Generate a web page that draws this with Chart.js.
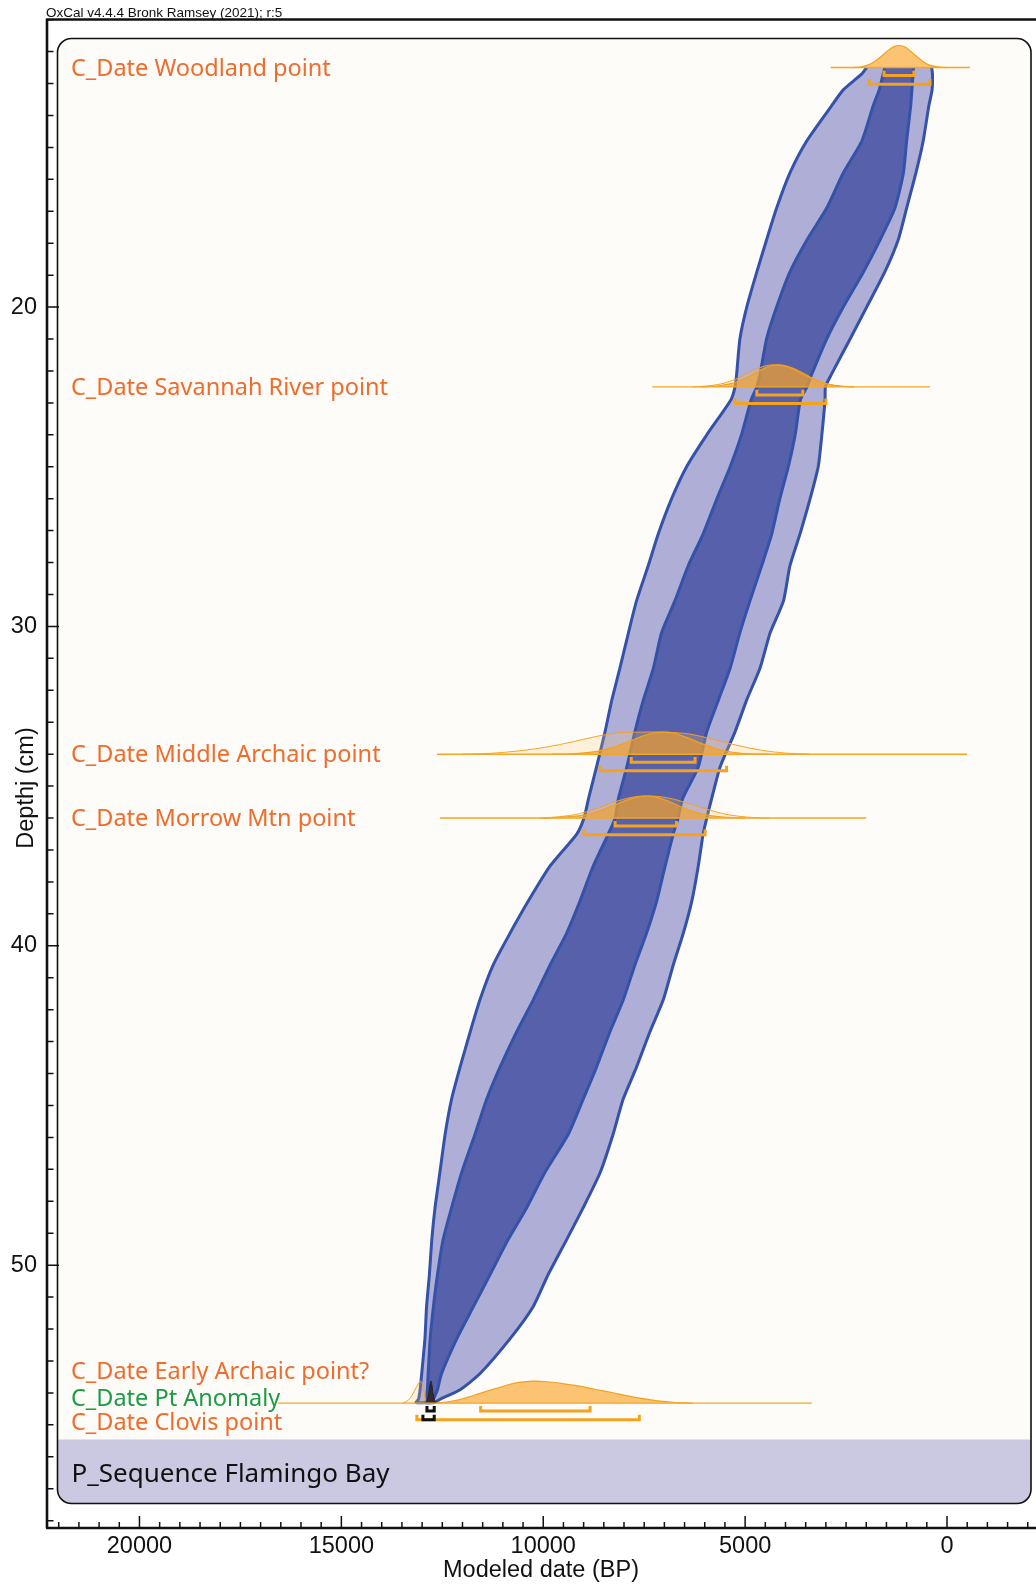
<!DOCTYPE html>
<html>
<head>
<meta charset="utf-8">
<title>Flamingo Bay age-depth model</title>
<script src="https://cdn.jsdelivr.net/npm/chart.js@4.4.1/dist/chart.umd.min.js"></script>
<style>
  html, body { margin: 0; padding: 0; background: #ffffff; }
  canvas { display: block; }
</style>
</head>
<body>
<canvas id="depthChart" width="1036" height="1585"></canvas>
<script>
// ---------------- model output (years BP, depth in cm) ----------------
const depthLevels = [12.5, 12.7, 13.2, 13.7, 14.8, 15.8, 16.9, 17.9, 18.9, 20.0, 21.0, 22.1, 22.5, 22.9, 24.0, 25.0,
  26.0, 27.1, 28.1, 29.2, 30.2, 31.3, 32.3, 33.3, 34.4, 35.4, 36.0, 36.5, 37.5, 38.6, 39.6, 40.6, 41.7, 42.7, 43.8,
  44.8, 45.9, 47.1, 48.2, 49.2, 50.3, 51.3, 52.3, 53.4, 53.9, 54.2, 54.3];
// 95.4% envelope, older and younger edge
const env95Old = [1990, 2110, 2570, 2860, 3475, 3890, 4220, 4470, 4710, 4960, 5130, 5210, 5250, 5350, 5950, 6450,
  6820, 7150, 7400, 7690, 7890, 8100, 8300, 8470, 8680, 8880, 8990, 9170, 9830, 10370, 10820, 11240, 11570, 11810, 12060,
  12270, 12430, 12560, 12680, 12760, 12820, 12890, 12930, 13010, 13050, 13090, 13150];
const env95Young = [380, 360, 370, 450, 590, 770, 1000, 1210, 1540, 1990, 2400, 2860, 3010, 3020, 3100, 3190,
  3390, 3640, 3890, 4050, 4380, 4630, 4960, 5250, 5620, 5830, 5950, 6040, 6160, 6320, 6530, 6780, 7030, 7360, 7690,
  8020, 8270, 8590, 9010, 9420, 9880, 10250, 10820, 11570, 12060, 12560, 12700];
// 68.3% envelope, older and younger edge
const env68Old = [1540, 1580, 1680, 1830, 2110, 2570, 2980, 3470, 3890, 4220, 4470, 4630, 4710, 4850, 5090, 5370,
  5700, 6040, 6410, 6740, 7070, 7270, 7520, 7730, 7930, 8140, 8220, 8390, 8760, 9090, 9420, 9830, 10250, 10660, 11070,
  11400, 11690, 12020, 12270, 12480, 12620, 12720, 12800, 12850, 12870, 12890, 12900];
const env68Young = [830, 840, 870, 900, 1000, 1080, 1290, 1660, 2070, 2570, 2980, 3350, 3470, 3630, 3760, 3930,
  4140, 4340, 4590, 4880, 5130, 5370, 5660, 5950, 6160, 6550, 6660, 6780, 6980, 7190, 7440, 7730, 8020, 8350, 8680,
  9010, 9380, 9960, 10410, 10870, 11320, 11730, 12140, 12520, 12620, 12720, 12760];

// ---------------- dated levels ----------------
const labelTexts = ['C_Date Woodland point', 'C_Date Savannah River point', 'C_Date Middle Archaic point',
  'C_Date Morrow Mtn point', 'C_Date Early Archaic point?', 'C_Date Pt Anomaly', 'C_Date Clovis point'];
const labelDepths = [12.5, 22.5, 34.0, 36.0, 53.32, 54.15, 54.9];
const labelKinds = ['date', 'date', 'date', 'date', 'date', 'anomaly', 'date'];

// depth of each distribution row and the span of its axis line
const rowDepths = [12.5, 22.5, 34.0, 36.0, 54.32];
const rowSpanOld = [2880, 7300, 12630, 12560, 16570];
const rowSpanYoung = [-570, 420, -500, 2000, 3350];

// highest posterior density ranges
const range68Old = [1560, 4710, 7820, 8220, 11550];
const range68Young = [820, 3570, 6240, 6700, 8840];
const range95Old = [1930, 5250, 8590, 8990, 13130];
const range95Young = [420, 3000, 5460, 5990, 7620];
const anomaly68 = [12880, 12700];
const anomaly95 = [12980, 12700];

// probability curves (relative to peak)
const woodlandYears = [2350, 2100, 1900, 1750, 1600, 1450, 1300, 1190, 1050, 900, 750, 600, 450, 250, 0];
const woodlandProb = [0, 0.04, 0.16, 0.33, 0.55, 0.79, 0.96, 1.0, 0.94, 0.74, 0.5, 0.28, 0.12, 0.03, 0];

const savannahYears = [6100, 5700, 5350, 5050, 4800, 4550, 4350, 4180, 4000, 3750, 3500, 3250, 2950, 2600, 2300];
const savannahProb = [0, 0.04, 0.15, 0.35, 0.58, 0.82, 0.96, 1.0, 0.96, 0.8, 0.56, 0.32, 0.13, 0.03, 0];
const savannahPriorYears = [6300, 5900, 5500, 5150, 4850, 4600, 4400, 4250, 4050, 3800, 3550, 3250, 2950, 2600, 2300];
const savannahPriorProb = [0, 0.05, 0.18, 0.42, 0.7, 0.9, 0.99, 1.0, 0.95, 0.78, 0.55, 0.3, 0.12, 0.03, 0];

const middleYears = [9800, 9200, 8700, 8300, 7950, 7600, 7300, 7030, 6750, 6450, 6100, 5750, 5350, 4900, 4400];
const middleProb = [0, 0.03, 0.12, 0.3, 0.52, 0.78, 0.95, 1.0, 0.95, 0.76, 0.5, 0.27, 0.1, 0.02, 0];
const middlePriorYears = [12000, 11300, 10600, 9900, 9300, 8700, 8200, 7600, 7000, 6400, 5800, 5200, 4600, 4000, 3400];
const middlePriorProb = [0, 0.04, 0.15, 0.33, 0.55, 0.8, 0.96, 1.0, 1.0, 0.92, 0.68, 0.4, 0.18, 0.05, 0];

const morrowYears = [10000, 9500, 9000, 8600, 8250, 7950, 7700, 7460, 7200, 6950, 6650, 6300, 5900, 5450, 5000];
const morrowProb = [0, 0.04, 0.13, 0.33, 0.58, 0.8, 0.94, 1.0, 0.95, 0.8, 0.56, 0.31, 0.12, 0.03, 0];
const morrowPriorYears = [10100, 9600, 9100, 8600, 8150, 7750, 7400, 7100, 6750, 6350, 5950, 5550, 5150, 4750, 4400];
const morrowPriorProb = [0, 0.06, 0.2, 0.48, 0.78, 0.96, 1.0, 0.97, 0.85, 0.63, 0.4, 0.2, 0.08, 0.02, 0];

const earlyYears = [12900, 12400, 12000, 11570, 11200, 10900, 10600, 10250, 9900, 9500, 9100, 8700, 8270, 7850, 7440, 7100, 6780, 6300];
const earlyProb = [0, 0.05, 0.2, 0.44, 0.65, 0.81, 0.94, 1.0, 0.97, 0.88, 0.77, 0.62, 0.47, 0.31, 0.18, 0.09, 0.04, 0];

const anomalyYears = [12930, 12870, 12830, 12800, 12780, 12760, 12730, 12690, 12640];
const anomalyProb = [0, 0.15, 0.5, 0.9, 1.0, 0.85, 0.45, 0.12, 0];

const clovisPriorYears = [13480, 13350, 13250, 13150, 13070, 13035, 12990, 12940, 12900, 12880];
const clovisPriorProb = [0, 0.12, 0.35, 0.7, 0.95, 1.0, 0.85, 0.4, 0.05, 0];

// ---------------- axes ----------------
const xMajorTicks = [20000, 15000, 10000, 5000, 0];
const yMajorTicks = [20, 30, 40, 50];
const xMinorStep = 500;
const yMinorStep = 1;
const xLimits = [-2204, 22315];
const yLimits = [10.98, 58.23];

const headerText = 'OxCal v4.4.4 Bronk Ramsey (2021); r:5';
const sequenceName = 'P_Sequence Flamingo Bay';
const xTitle = 'Modeled date (BP)';
const yTitle = 'Depthj (cm)';

// ---------------- styling ----------------
const SANS = "'Noto Sans', 'Open Sans', sans-serif";
const AXIS_FONT = "'Liberation Sans', Arial, sans-serif";
const PEAK = 0.69;          // drawn height of a full-probability peak, in cm
const BRACKET_68 = 0.25;    // offsets of the range brackets below a row, in cm
const BRACKET_95 = 0.52;
const BRACKET_TICK = 0.16;
const ORANGE = '#f5a21f';

function polygon(oldEdge, youngEdge) {
  const down = oldEdge.map((v, i) => ({ x: v, y: depthLevels[i] }));
  const up = youngEdge.map((v, i) => ({ x: v, y: depthLevels[i] })).reverse();
  return down.concat(up);
}
function curve(years, probs, base) {
  return years.map((v, i) => ({ x: v, y: base - probs[i] * PEAK }));
}
function bracket(oldYr, youngYr, depth) {
  return [
    { x: oldYr, y: depth - BRACKET_TICK }, { x: oldYr, y: depth },
    { x: youngYr, y: depth }, { x: youngYr, y: depth - BRACKET_TICK }
  ];
}

const datasets = [];
datasets.push({ data: polygon(env95Old, env95Young), fill: 'shape', backgroundColor: '#aeaed7',
  borderColor: '#3452a8', borderWidth: 3, tension: 0.2, order: 100 });
datasets.push({ data: polygon(env68Old, env68Young), fill: 'shape', backgroundColor: '#5761ab',
  borderColor: '#3452a8', borderWidth: 3, tension: 0.2, order: 90 });

const priorStyle = { fill: 'shape', backgroundColor: 'rgba(253,206,120,0.22)', borderColor: 'rgba(245,160,35,0.95)',
  borderWidth: 1, tension: 0.35, order: 80 };
[[savannahPriorYears, savannahPriorProb, rowDepths[1]],
 [middlePriorYears, middlePriorProb, rowDepths[2]],
 [morrowPriorYears, morrowPriorProb, rowDepths[3]],
 [clovisPriorYears, clovisPriorProb, rowDepths[4]]].forEach(([yr, p, d]) => {
  datasets.push(Object.assign({ data: curve(yr, p, d) }, priorStyle));
});

const postStyle = { fill: 'shape', backgroundColor: 'rgba(251,158,25,0.6)', borderColor: '#f4a020',
  borderWidth: 1.2, tension: 0.35, order: 70 };
[[woodlandYears, woodlandProb, rowDepths[0]],
 [savannahYears, savannahProb, rowDepths[1]],
 [middleYears, middleProb, rowDepths[2]],
 [morrowYears, morrowProb, rowDepths[3]],
 [earlyYears, earlyProb, rowDepths[4]]].forEach(([yr, p, d]) => {
  datasets.push(Object.assign({ data: curve(yr, p, d) }, postStyle));
});

datasets.push({ data: curve(anomalyYears, anomalyProb, rowDepths[4]), fill: 'shape',
  backgroundColor: 'rgba(45,35,35,0.88)', borderColor: '#222', borderWidth: 1, tension: 0.3, order: 60 });

rowDepths.forEach((d, i) => {
  datasets.push({ data: [{ x: rowSpanOld[i], y: d }, { x: rowSpanYoung[i], y: d }], borderColor: '#f6a623',
    borderWidth: 1.4, fill: false, order: 50 });
  datasets.push({ data: bracket(range68Old[i], range68Young[i], d + BRACKET_68), borderColor: ORANGE,
    borderWidth: 3, fill: false, order: 40, borderJoinStyle: 'miter' });
  datasets.push({ data: bracket(range95Old[i], range95Young[i], d + BRACKET_95), borderColor: ORANGE,
    borderWidth: 3, fill: false, order: 40, borderJoinStyle: 'miter' });
});
datasets.push({ data: bracket(anomaly68[0], anomaly68[1], rowDepths[4] + BRACKET_68), borderColor: '#111',
  borderWidth: 3, fill: false, order: 30, borderJoinStyle: 'miter' });
datasets.push({ data: bracket(anomaly95[0], anomaly95[1], rowDepths[4] + BRACKET_95), borderColor: '#111',
  borderWidth: 3, fill: false, order: 30, borderJoinStyle: 'miter' });

// ---------------- frame, panel, ticks, labels ----------------
const oxcalFrame = {
  id: 'oxcalFrame',
  beforeDraw(chart) {
    const { ctx, width, height, chartArea: a } = chart;
    ctx.save();
    ctx.fillStyle = '#ffffff';
    ctx.fillRect(0, 0, width, height);
    ctx.fillStyle = '#111';
    ctx.font = '13.5px ' + AXIS_FONT;
    ctx.textBaseline = 'alphabetic';
    ctx.textAlign = 'left';
    ctx.fillText(headerText, a.left, 16.5);
    ctx.restore();
  },
  beforeDatasetsDraw(chart) {
    const { ctx, chartArea: a, scales } = chart;
    const xs = scales.x, ys = scales.y;
    ctx.save();
    // rounded sequence panel
    const L = a.left + 11.5, T = a.top + 19.5, R = a.right - 5, B = a.bottom - 24.5;
    ctx.beginPath();
    ctx.roundRect(L, T, R - L, B - T, 14);
    ctx.fillStyle = '#fdfcf8';
    ctx.fill();
    ctx.save();
    ctx.clip();
    ctx.fillStyle = '#cbc8e2';
    ctx.fillRect(L, B - 64, R - L, 66);
    ctx.restore();
    ctx.lineWidth = 1.6;
    ctx.strokeStyle = '#111';
    ctx.stroke();
    ctx.fillStyle = '#111';
    ctx.font = '26px ' + SANS;
    ctx.textAlign = 'left';
    ctx.textBaseline = 'alphabetic';
    ctx.fillText(sequenceName, L + 14, B - 21.5);

    // axis lines
    ctx.strokeStyle = '#111';
    ctx.lineWidth = 2.6;
    ctx.beginPath();
    ctx.moveTo(a.left + 1, a.top);
    ctx.lineTo(a.left + 1, a.bottom);
    ctx.stroke();
    ctx.lineWidth = 2.3;
    ctx.beginPath();
    ctx.moveTo(a.left, a.top + 0.5);
    ctx.lineTo(a.right, a.top + 0.5);
    ctx.stroke();
    ctx.lineWidth = 2.6;
    ctx.beginPath();
    ctx.moveTo(a.left, a.bottom);
    ctx.lineTo(a.right, a.bottom);
    ctx.stroke();

    // inward tick marks
    ctx.lineWidth = 1.5;
    ctx.beginPath();
    for (let v = Math.ceil(yLimits[0]); v <= yLimits[1]; v += yMinorStep) {
      const py = ys.getPixelForValue(v);
      const len = yMajorTicks.includes(v) ? 12 : 6.5;
      ctx.moveTo(a.left + 1, py);
      ctx.lineTo(a.left + 1 + len, py);
    }
    for (let v = -2000; v <= 22000; v += xMinorStep) {
      const px = xs.getPixelForValue(v);
      const len = xMajorTicks.includes(v) ? 12 : 6;
      ctx.moveTo(px, a.bottom);
      ctx.lineTo(px, a.bottom - len);
    }
    ctx.stroke();

    // vertical axis title
    ctx.save();
    ctx.translate(27, 788);
    ctx.rotate(-Math.PI / 2);
    ctx.font = '23.5px ' + AXIS_FONT;
    ctx.textAlign = 'center';
    ctx.textBaseline = 'middle';
    ctx.fillStyle = '#111';
    ctx.fillText(yTitle, 0, 0);
    ctx.restore();
    ctx.restore();
  },
  afterDatasetsDraw(chart) {
    const { ctx, chartArea: a, scales } = chart;
    ctx.save();
    ctx.font = '23.5px ' + SANS;
    ctx.textAlign = 'left';
    ctx.textBaseline = 'alphabetic';
    labelTexts.forEach((t, i) => {
      ctx.fillStyle = labelKinds[i] === 'anomaly' ? '#1f9a46' : '#ef6c2c';
      ctx.fillText(t, a.left + 25, scales.y.getPixelForValue(labelDepths[i]) + 8);
    });
    ctx.restore();
  }
};

new Chart(document.getElementById('depthChart'), {
  type: 'line',
  data: { datasets },
  options: {
    responsive: false,
    animation: false,
    devicePixelRatio: 1,
    events: [],
    layout: { padding: { top: 19, right: 0, bottom: 0, left: 0 } },
    elements: { point: { radius: 0, hitRadius: 0 }, line: { capBezierPoints: true } },
    plugins: { legend: { display: false }, tooltip: { enabled: false } },
    scales: {
      x: {
        type: 'linear',
        reverse: true,
        min: xLimits[0],
        max: xLimits[1],
        afterBuildTicks: s => { s.ticks = xMajorTicks.map(v => ({ value: v })); },
        afterFit: s => { s.height = 57; s.paddingLeft = 0; s.paddingRight = 0; },
        grid: { display: false, drawTicks: false },
        border: { display: false },
        ticks: { autoSkip: false, maxRotation: 0, padding: 4, color: '#111',
          font: { family: AXIS_FONT, size: 23.5 }, callback: v => String(v) },
        title: { display: true, text: xTitle, color: '#111', font: { family: AXIS_FONT, size: 23.5 },
          padding: { top: 0, bottom: 0 } }
      },
      y: {
        type: 'linear',
        reverse: true,
        min: yLimits[0],
        max: yLimits[1],
        afterBuildTicks: s => { s.ticks = yMajorTicks.map(v => ({ value: v })); },
        afterFit: s => { s.width = 46; s.paddingTop = 0; s.paddingBottom = 0; },
        grid: { display: false, drawTicks: false },
        border: { display: false },
        ticks: { autoSkip: false, padding: 9, color: '#111',
          font: { family: AXIS_FONT, size: 23.5 }, callback: v => String(v) }
      }
    }
  },
  plugins: [oxcalFrame]
});
</script>
</body>
</html>
